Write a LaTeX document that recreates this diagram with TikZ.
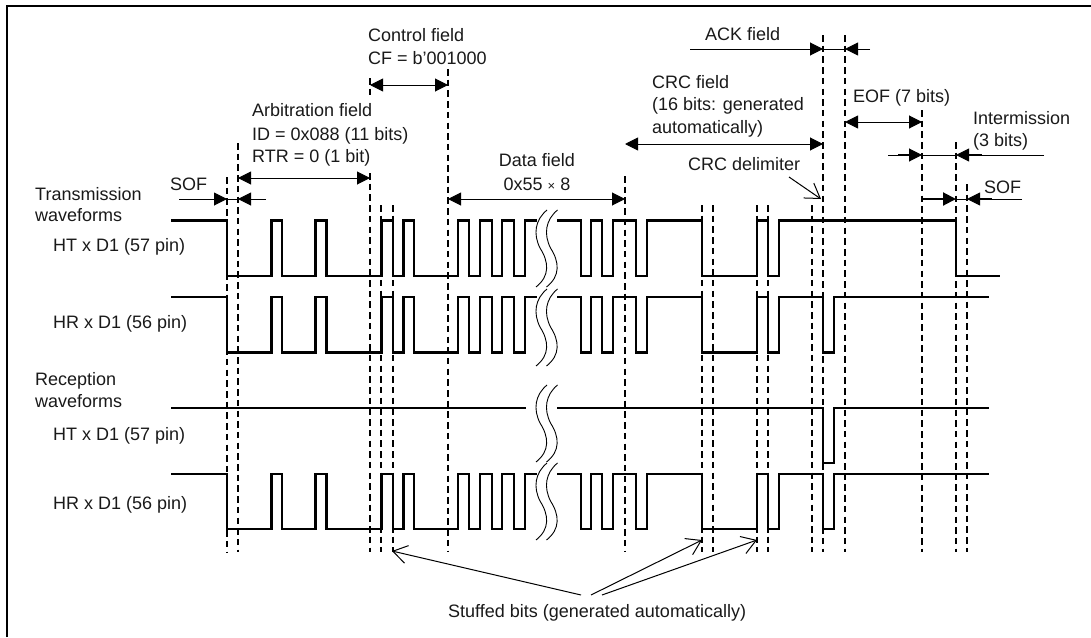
\documentclass[tikz,border=0pt]{standalone}
\usepackage{fontspec}
\setmainfont{Liberation Sans}
\usetikzlibrary{arrows.meta}
\tikzset{
  lab/.style={inner sep=0pt,anchor=base west,font=\fontsize{18}{20}\selectfont,text=black!90},
  guide/.style={line width=1.05pt,dash pattern=on 6.5pt off 4.2pt},
  wave/.style={line width=2.8pt,line join=miter},
  dim/.style={line width=1pt,-{Triangle[length=13pt,width=13pt]}},
  dimboth/.style={line width=1pt,{Triangle[length=13pt,width=13pt]}-{Triangle[length=13pt,width=13pt]}},
  openarrow/.style={line width=1pt,-{Straight Barb[length=14pt,width=18pt]}},
  brk/.style={line width=0.9pt},
}
\newcommand{\pulsesA}[2]{%
  (171,#2) -| (227,#1) -| (271.5,#2) -| (282,#1) -| (315.5,#2) -| (326.5,#1) -| (381.5,#2) -| (393,#1) -| (403.5,#2) -| (414,#1) -| (458,#2) -| (469,#1) -| (480,#2) -| (492,#1) -| (502,#2) -| (514,#1) -| (525,#2) -- (537,#2)
}
\newcommand{\pulsesB}[2]{%
  (557,#2) -| (581,#1) -| (591,#2) -| (602,#1) -| (613,#2) -| (636,#1) -| (647,#2) -| (702,#1) -| (757,#2) -| (768,#1) -| (779,#2)
}
\newcommand{\brkpair}[1]{%
  \foreach \dx in {0,10.5} {
    \draw[brk,shift={(\dx,#1)}] (547,0) .. controls (535,10) and (533,24) .. (540,38) .. controls (549,52) and (550,66) .. (536,77);
  }
}
\begin{document}
\begin{tikzpicture}[x=1pt,y=-1pt]
\useasboundingbox (0,0) rectangle (1091,637);
% frame (top and left only)
\draw[line width=2pt] (7,637) -- (7,5.7) -- (1091,5.7);
% guide lines
\foreach \x/\t in {227/177,238/143,370/173,381/205,393/205,448/69,625/176,702/205,713/205,757/205,768/205,812/205,823/35,845/35,922/110,956/142,967/184} {
  \draw[guide] (\x,\t) -- (\x,552);
}
\draw[guide] (370,78) -- (370,95);
% waveforms
\draw[wave] \pulsesA{276}{220.7} \pulsesB{276}{220.7} -- (779,220.7) -| (956,276) -- (1000,276);
\draw[line width=3.4pt] (833,220.7) -- (845,220.7);
\draw[wave] \pulsesA{352.7}{297} \pulsesB{352.7}{297} -- (779,297) -| (823,352.7) -| (834,297) -- (989,297);
\draw[wave] (171,408) -- (526,408);
\draw[wave] (557,408) -| (823,463) -| (834,408) -- (989,408);
\draw[wave] \pulsesA{529}{474} \pulsesB{529}{474} -- (779,474) -| (823,529) -| (834,474) -- (989,474);
% break marks
\brkpair{210}\brkpair{289}\brkpair{385}\brkpair{463}
% labels
\node[lab] (ctrl1) at (368,41.7) {Control field};
\node[lab] (ctrl2) at (368,64) {CF = b’001000};
\node[lab] (arb1) at (252,116.7) {Arbitration field};
\node[lab] (arb2) at (252,140) {ID = 0x088 (11 bits)};
\node[lab] (arb3) at (252,162.7) {RTR = 0 (1 bit)};
\node[lab,anchor=base] (data1) at (537,166.7) {Data field};
\node[lab,anchor=base] (data2) at (537,190.7) {0x55 {\fontsize{13}{13}\selectfont ×} 8};
\node[lab] (sofa) at (170,190.7) {SOF};
\node[lab] (tx1) at (35,200) {Transmission};
\node[lab] (tx2) at (35,221.7) {waveforms};
\node[lab] (ht1) at (53,251) {HT x D1 (57 pin)};
\node[lab] (hr1) at (53,328) {HR x D1 (56 pin)};
\node[lab] (rx1) at (35,385) {Reception};
\node[lab] (rx2) at (35,407.7) {waveforms};
\node[lab] (ht2) at (53,440.7) {HT x D1 (57 pin)};
\node[lab] (hr2) at (53,509) {HR x D1 (56 pin)};
\node[lab] (ack) at (705,40.7) {ACK field};
\node[lab] (crc1) at (652,88) {CRC field};
\node[lab] (crc2) at (652,110.7) {(16 bits: generated};
\node[lab] (crc3) at (652,133) {automatically)};
\node[lab] (crcd) at (688,170.7) {CRC delimiter};
\node[lab] (eof) at (853,102) {EOF (7 bits)};
\node[lab] (im1) at (973,124) {Intermission};
\node[lab] (im2) at (973,146.7) {(3 bits)};
\node[lab] (sofb) at (984,193) {SOF};
\node[lab] (stuff) at (448,617) {Stuffed bits (generated automatically)};
% connector ends
\coordinate (sA1) at (179,199); \coordinate (sA2) at (227,199);
\coordinate (sA3) at (266,199); \coordinate (sA4) at (238,199);
\coordinate (arbL) at (238,178); \coordinate (arbR) at (370,178);
\coordinate (ctlL) at (370,85); \coordinate (ctlR) at (448,85);
\coordinate (datL) at (448,199); \coordinate (datR) at (625,199);
\coordinate (crcL) at (625,144); \coordinate (crcR) at (823,144);
\coordinate (ackA) at (690,49); \coordinate (ackB) at (823,49);
\coordinate (ackC) at (870,49); \coordinate (ackD) at (845,49);
\coordinate (eofL) at (845,122); \coordinate (eofR) at (922,122);
\coordinate (imA) at (888,155); \coordinate (imB) at (922,155);
\coordinate (imC) at (1044,155); \coordinate (imD) at (956,155);
\coordinate (sB1) at (922,199); \coordinate (sB2) at (956,199);
\coordinate (sB3) at (1022,199); \coordinate (sB4) at (967,199);
\coordinate (cdA) at (789,177); \coordinate (cdB) at (821,199);
\coordinate (st1) at (581,595); \coordinate (st1e) at (392,551);
\coordinate (st2) at (591,595); \coordinate (st2e) at (702,540);
\coordinate (st3) at (602,595); \coordinate (st3e) at (757,540);
% dimension arrows
\draw[dim] (sA1) -- (sA2);
\draw[dim] (sA3) -- (sA4);
\draw[line width=1pt] (sA2) -- (sA4);
\draw[dimboth] (arbL) -- (arbR);
\draw[dimboth] (ctlL) -- (ctlR);
\draw[dimboth] (datL) -- (datR);
\draw[dimboth] (crcL) -- (crcR);
\draw[dim] (ackA) -- (ackB);
\draw[dim] (ackC) -- (ackD);
\draw[line width=1pt] (ackB) -- (ackD);
\draw[dimboth] (eofL) -- (eofR);
\draw[dim] (imA) -- (imB);
\draw[dim] (imC) -- (imD);
\draw[line width=1pt] (imB) -- (imD);
\draw[line width=2pt] (898,155) -- (910,155);
\draw[line width=2pt] (968,155) -- (982,155);
\draw[dim,line width=2pt] (sB1) -- (sB2);
\draw[dim] (sB3) -- (sB4);
\draw[line width=1pt] (sB2) -- (sB4);
\draw[line width=2pt] (979,199) -- (992,199);
% open arrows
\draw[openarrow] (cdA) -- (cdB);
\draw[openarrow] (st1) -- (st1e);
\draw[openarrow] (st2) -- (st2e);
\draw[openarrow] (st3) -- (st3e);
\end{tikzpicture}
\end{document}
